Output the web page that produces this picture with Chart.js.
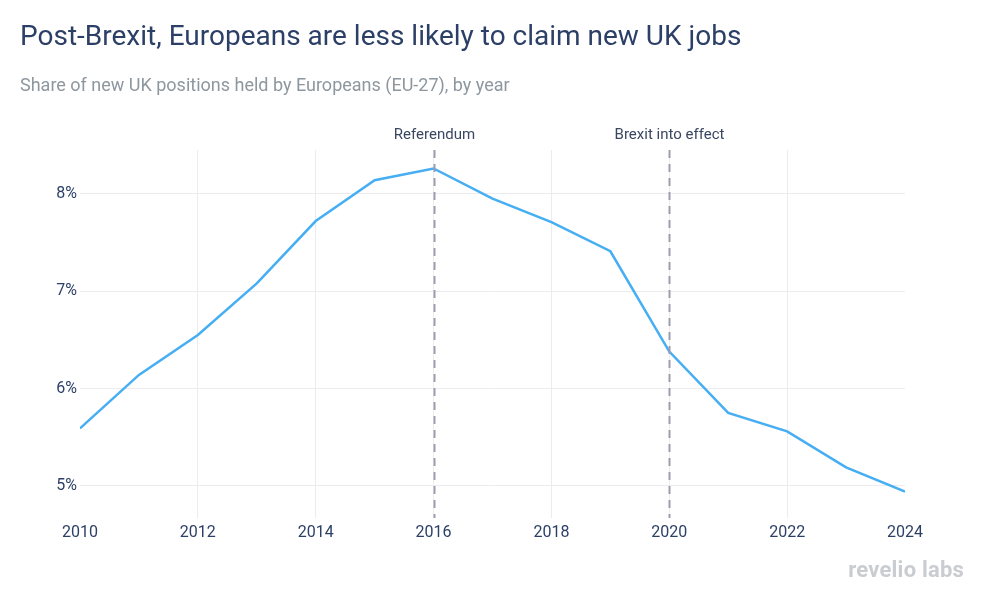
<!DOCTYPE html>
<html>
<head>
<meta charset="utf-8">
<script src="https://cdn.jsdelivr.net/npm/chart.js@4"></script>
<style>
    body { margin: 0; background: #fff; font-family: Roboto, sans-serif; }
    #wrap { position: relative; width: 984px; height: 600px; }
    #title { position: absolute; left: 20px; top: 19px; font-size: 28px; color: #2c3f66; white-space: nowrap; }
    #subtitle { position: absolute; left: 20px; top: 74px; font-size: 18px; color: #8d979f; white-space: nowrap; }
    #logo { position: absolute; right: 20px; top: 557px; font-size: 22px; font-weight: 700; color: #c9ccd1; letter-spacing: 0.2px; }
    canvas { position: absolute; left: 0; top: 0; }
</style>
</head>
<body>
<div id="wrap">
    <canvas id="chart" width="984" height="600"></canvas>
    <div id="title">Post-Brexit, Europeans are less likely to claim new UK jobs</div>
    <div id="subtitle">Share of new UK positions held by Europeans (EU-27), by year</div>
    <div id="logo">revelio labs</div>
</div>
<script>
// Chart data
const years = [2010, 2011, 2012, 2013, 2014, 2015, 2016, 2017, 2018, 2019, 2020, 2021, 2022, 2023, 2024];
const euShare = [5.59, 6.14, 6.55, 7.08, 7.72, 8.14, 8.26, 7.95, 7.71, 7.41, 6.38, 5.75, 5.56, 5.19, 4.94];
const yTicks = [5, 6, 7, 8];
const eventYears = [2016, 2020];
const eventLabels = ['Referendum', 'Brexit into effect'];

// Dashed event lines with labels above the plot
const eventLines = {
    id: 'eventLines',
    afterDatasetsDraw(chart) {
        const { ctx, chartArea, scales } = chart;
        ctx.save();
        eventYears.forEach((yr, i) => {
            const x = Math.round(scales.x.getPixelForValue(yr)) + 0.5;
            ctx.strokeStyle = '#9d9db0';
            ctx.lineWidth = 2;
            ctx.setLineDash([8, 6]);
            ctx.beginPath();
            ctx.moveTo(x, chartArea.top);
            ctx.lineTo(x, chartArea.bottom);
            ctx.stroke();
            ctx.setLineDash([]);
            ctx.fillStyle = '#3a4761';
            ctx.font = '15px Roboto';
            ctx.textAlign = 'center';
            ctx.textBaseline = 'middle';
            ctx.fillText(eventLabels[i], x, chartArea.top - 15);
        });
        ctx.restore();
    }
};

const ctx = document.getElementById('chart').getContext('2d');
new Chart(ctx, {
    type: 'line',
    data: {
        datasets: [{
            data: years.map((y, i) => ({ x: y, y: euShare[i] })),
            borderColor: '#46aef2',
            borderWidth: 2.5,
            pointRadius: 0,
            tension: 0,
            fill: false
        }]
    },
    options: {
        responsive: false,
        animation: false,
        layout: { padding: { left: 0, right: 79, top: 150, bottom: 42 } },
        plugins: { legend: { display: false }, tooltip: { enabled: false } },
        scales: {
            x: {
                type: 'linear',
                min: 2010,
                max: 2024,
                ticks: {
                    stepSize: 2,
                    color: '#2c3f66',
                    font: { family: 'Roboto', size: 16 },
                    padding: 5,
                    callback: v => String(v)
                },
                grid: {
                    color: c => (c.tick.value === 2010 || c.tick.value === 2024) ? 'rgba(0,0,0,0)' : '#ececef',
                    drawTicks: false
                },
                border: { display: false },
                afterFit: s => { s.height = 40; }
            },
            y: {
                min: 4.67,
                max: 8.45,
                afterBuildTicks: s => { s.ticks = yTicks.map(v => ({ value: v })); },
                ticks: {
                    color: '#2c3f66',
                    font: { family: 'Roboto', size: 16 },
                    padding: 3,
                    callback: v => v + '%'
                },
                grid: { color: '#ececef', drawTicks: false },
                border: { display: false },
                afterFit: s => { s.width = 80; }
            }
        }
    },
    plugins: [eventLines]
});
</script>
</body>
</html>
